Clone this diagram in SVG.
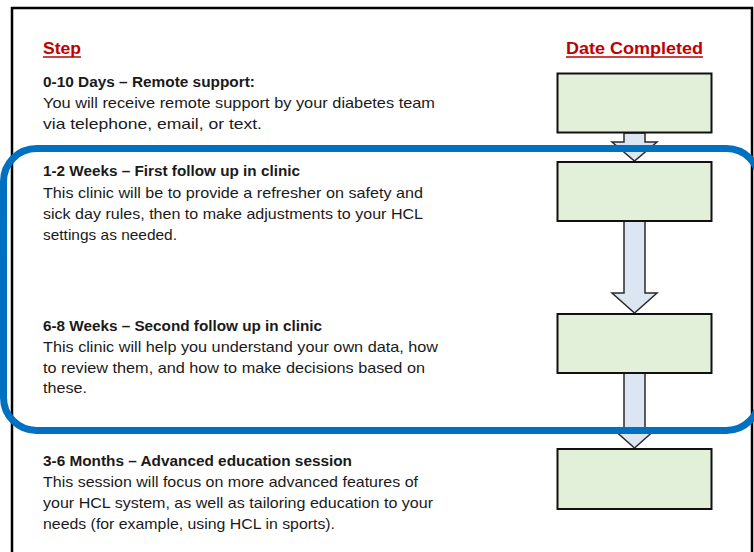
<svg xmlns="http://www.w3.org/2000/svg" width="754" height="552" viewBox="0 0 754 552">
<style>
  .t { font-family: "Liberation Sans", Arial, sans-serif; font-size: 14.5px; fill: #1a1a1a; }
  .b { font-weight: bold; }
  .h { font-family: "Liberation Sans", Arial, sans-serif; font-size: 16.5px; font-weight: bold; fill: #c00000; }
  .box { fill: #e2efd9; stroke: #111; stroke-width: 2; }
  .arrow { fill: #dce6f2; stroke: #2a2a2a; stroke-width: 1.5; stroke-linejoin: miter; }
  .ul { stroke: #c00000; stroke-width: 1.6; }
</style>
<rect x="0" y="0" width="754" height="552" fill="#ffffff"/>
<rect x="12" y="8" width="740" height="560" fill="none" stroke="#000" stroke-width="2.5"/>

<g id="headers">
  <text class="h" x="43" y="54" textLength="38" lengthAdjust="spacingAndGlyphs">Step</text>
  <line class="ul" x1="43" y1="57" x2="81" y2="57"/>
  <text class="h" x="566" y="54" textLength="137" lengthAdjust="spacingAndGlyphs">Date Completed</text>
  <line class="ul" x1="566" y1="57" x2="703" y2="57"/>
</g>

<g id="connectors">
  <path class="arrow" d="M624,133 L645,133 L645,142 L657,142 L634.5,161 L612,142 L624,142 Z"/>
  <path class="arrow" d="M624,221 L645,221 L645,293 L657,293 L634.5,313 L612,293 L624,293 Z"/>
  <path class="arrow" d="M624,373 L645,373 L645,428 L657,428 L634.5,448 L612,428 L624,428 Z"/>
</g>

<g id="step1">
  <text class="t b" x="43" y="87" textLength="212" lengthAdjust="spacingAndGlyphs">0-10 Days – Remote support:</text>
  <text class="t" x="43" y="108" textLength="392" lengthAdjust="spacingAndGlyphs">You will receive remote support by your diabetes team</text>
  <text class="t" x="43" y="129" textLength="219" lengthAdjust="spacingAndGlyphs">via telephone, email, or text.</text>
  <rect class="box" x="557.5" y="73.5" width="154" height="59"/>
</g>

<g id="step2">
  <text class="t b" x="43" y="176" textLength="257" lengthAdjust="spacingAndGlyphs">1-2 Weeks – First follow up in clinic</text>
  <text class="t" x="43" y="198" textLength="380" lengthAdjust="spacingAndGlyphs">This clinic will be to provide a refresher on safety and</text>
  <text class="t" x="43" y="219" textLength="380" lengthAdjust="spacingAndGlyphs">sick day rules, then to make adjustments to your HCL</text>
  <text class="t" x="43" y="240" textLength="134" lengthAdjust="spacingAndGlyphs">settings as needed.</text>
  <rect class="box" x="557.5" y="162" width="154" height="59"/>
</g>

<g id="step3">
  <text class="t b" x="43" y="331" textLength="279" lengthAdjust="spacingAndGlyphs">6-8 Weeks – Second follow up in clinic</text>
  <text class="t" x="43" y="352" textLength="395" lengthAdjust="spacingAndGlyphs">This clinic will help you understand your own data, how</text>
  <text class="t" x="43" y="373" textLength="382" lengthAdjust="spacingAndGlyphs">to review them, and how to make decisions based on</text>
  <text class="t" x="43" y="393" textLength="44" lengthAdjust="spacingAndGlyphs">these.</text>
  <rect class="box" x="557.5" y="314" width="154" height="59"/>
</g>

<g id="step4">
  <text class="t b" x="43" y="466" textLength="309" lengthAdjust="spacingAndGlyphs">3-6 Months – Advanced education session</text>
  <text class="t" x="43" y="487" textLength="375" lengthAdjust="spacingAndGlyphs">This session will focus on more advanced features of</text>
  <text class="t" x="43" y="508" textLength="390" lengthAdjust="spacingAndGlyphs">your HCL system, as well as tailoring education to your</text>
  <text class="t" x="43" y="529" textLength="292" lengthAdjust="spacingAndGlyphs">needs (for example, using HCL in sports).</text>
  <rect class="box" x="557.5" y="449" width="154" height="60"/>
</g>

<g id="highlight">
  <rect x="3.5" y="148.5" width="756" height="282" rx="33" ry="33" fill="none" stroke="#0070c0" stroke-width="7"/>
</g>
</svg>
